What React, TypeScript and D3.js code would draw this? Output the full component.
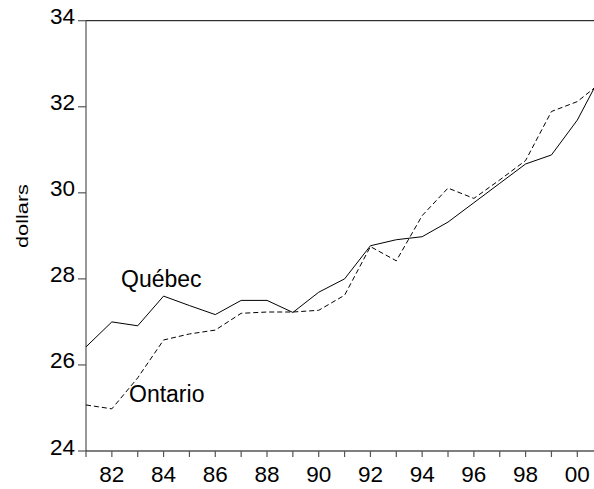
import React, { useEffect, useRef } from 'react';
import * as d3 from 'd3';

// years shown on the x axis (2001 runs off the right edge)
const years = [1981, 1982, 1983, 1984, 1985, 1986, 1987, 1988, 1989, 1990, 1991,
  1992, 1993, 1994, 1995, 1996, 1997, 1998, 1999, 2000, 2001];

const quebec = [26.42, 27.0, 26.91, 27.6, 27.38, 27.17, 27.5, 27.5, 27.22, 27.69, 28.0,
  28.77, 28.91, 28.98, 29.32, 29.77, 30.22, 30.67, 30.88, 31.69, 32.83];

const ontario = [25.07, 24.98, 25.7, 26.58, 26.72, 26.81, 27.2, 27.23, 27.23, 27.27, 27.62,
  28.75, 28.42, 29.47, 30.11, 29.87, 30.3, 30.75, 31.89, 32.12, 32.6];

const yTicks = [24, 26, 28, 30, 32, 34];
const xLabelYears = [1982, 1984, 1986, 1988, 1990, 1992, 1994, 1996, 1998, 2000];

const W = 594;
const H = 489;

const App: React.FC = () => {
  const ref = useRef<SVGSVGElement>(null);

  useEffect(() => {
    if (!ref.current) return;
    const svg = d3.select(ref.current);
    svg.selectAll('*').remove();

    const left = 86, right = 594, top = 20.7, bottom = 451;
    const font = 'Arial, "Liberation Sans", sans-serif';

    const x = d3.scaleLinear().domain([1981, 2000]).range([left, 577.3]);
    const y = d3.scaleLinear().domain([24, 34]).range([bottom, top]);

    svg.append('defs').append('clipPath').attr('id', 'plot-clip')
      .append('rect')
      .attr('x', left).attr('y', top)
      .attr('width', right - left).attr('height', bottom - top);

    // frame: top line, left axis, bottom axis
    svg.append('line')
      .attr('x1', left).attr('x2', right).attr('y1', top).attr('y2', top)
      .attr('stroke', '#000').attr('stroke-width', 1);
    svg.append('line')
      .attr('x1', left).attr('x2', left).attr('y1', top).attr('y2', bottom)
      .attr('stroke', '#555').attr('stroke-width', 1.2);
    svg.append('line')
      .attr('x1', left).attr('x2', right).attr('y1', bottom).attr('y2', bottom)
      .attr('stroke', '#000').attr('stroke-width', 1.2);

    // y ticks + labels (labels sit a little above their tick)
    const gy = svg.append('g');
    gy.selectAll('line').data(yTicks).enter().append('line')
      .attr('x1', left - 8).attr('x2', left)
      .attr('y1', d => y(d)).attr('y2', d => y(d))
      .attr('stroke', '#555').attr('stroke-width', 1.2);
    gy.selectAll('text').data(yTicks).enter().append('text')
      .attr('x', left - 11).attr('y', d => y(d) + 3.5)
      .attr('text-anchor', 'end')
      .attr('font-family', font).attr('font-size', 22.5)
      .text(d => d);

    // x ticks every year, labels every other year
    const gx = svg.append('g');
    gx.selectAll('line').data(years.filter(d => x(d) <= right)).enter().append('line')
      .attr('x1', d => x(d)).attr('x2', d => x(d))
      .attr('y1', bottom).attr('y2', bottom + 6)
      .attr('stroke', '#555').attr('stroke-width', 1.2);
    gx.selectAll('text').data(xLabelYears).enter().append('text')
      .attr('x', d => x(d)).attr('y', 482)
      .attr('text-anchor', 'middle')
      .attr('font-family', font).attr('font-size', 22.5)
      .text(d => String(d % 100).padStart(2, '0'));

    // y axis title
    svg.append('text')
      .attr('transform', 'translate(28,216) rotate(-90)')
      .attr('text-anchor', 'middle')
      .attr('font-family', font).attr('font-size', 17)
      .attr('textLength', 64)
      .attr('lengthAdjust', 'spacingAndGlyphs')
      .text('dollars');

    const line = d3.line<number>()
      .x((_, i) => x(years[i]))
      .y(d => y(d));

    const plot = svg.append('g').attr('clip-path', 'url(#plot-clip)');
    plot.append('path')
      .datum(ontario)
      .attr('d', line)
      .attr('fill', 'none')
      .attr('stroke', '#000').attr('stroke-width', 1)
      .attr('stroke-dasharray', '5,3');
    plot.append('path')
      .datum(quebec)
      .attr('d', line)
      .attr('fill', 'none')
      .attr('stroke', '#000').attr('stroke-width', 1);

    // series labels
    svg.append('text')
      .attr('x', 121).attr('y', 287)
      .attr('font-family', font).attr('font-size', 23)
      .text('Québec');
    svg.append('text')
      .attr('x', 129).attr('y', 401.7)
      .attr('font-family', font).attr('font-size', 23)
      .text('Ontario');
  }, []);

  return (
    <svg ref={ref} width={W} height={H}
      style={{ position: 'absolute', left: 0, top: 0, background: '#fff' }} />
  );
};

export default App;
